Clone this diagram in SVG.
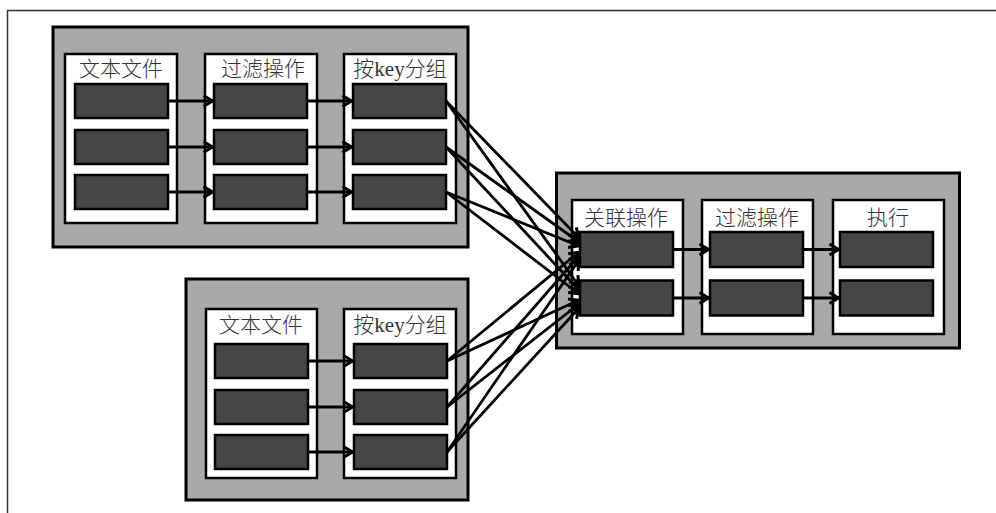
<svg xmlns="http://www.w3.org/2000/svg" width="996" height="513" viewBox="0 0 996 513">
<defs>
<style>
.frame{stroke:#333;stroke-width:1.5;fill:none}
.grp{fill:#a9a9a9;stroke:#000;stroke-width:3}
.col{fill:#fff;stroke:#000;stroke-width:2.5}
.blk{fill:#464646;stroke:#000;stroke-width:2.5}
.lbl{font-family:"Liberation Serif","Noto Sans CJK SC",serif;font-size:21px;font-weight:300;fill:#333;text-anchor:middle}
.ln{stroke:#000;stroke-width:2.8;fill:none;marker-end:url(#ah)}
</style>
<marker id="ah" markerUnits="userSpaceOnUse" markerWidth="14" markerHeight="16" refX="11" refY="7" orient="auto">
<path d="M1.5,1.5 L10.5,7 L1.5,12.5" fill="none" stroke="#000" stroke-width="3"/>
</marker>
</defs>
<rect width="996" height="513" fill="#fff"/>
<path class="frame" d="M7.5,513 L7.5,10.5 L996,10.5"/>

<g id="stage1">
<rect class="grp" x="53" y="27" width="415" height="220"/>
<g id="s1-text">
<rect class="col" x="65" y="54" width="112" height="169"/>
<text class="lbl" x="121" y="76">文本文件</text>
<rect class="blk" x="75" y="84" width="93" height="34"/>
<rect class="blk" x="75" y="130" width="93" height="34"/>
<rect class="blk" x="75" y="175" width="93" height="34"/>
</g>
<g id="s1-filter">
<rect class="col" x="205" y="54" width="112" height="169"/>
<text class="lbl" x="263" y="76">过滤操作</text>
<rect class="blk" x="214" y="84" width="93" height="34"/>
<rect class="blk" x="214" y="130" width="93" height="34"/>
<rect class="blk" x="214" y="175" width="93" height="34"/>
</g>
<g id="s1-group">
<rect class="col" x="344" y="54" width="112" height="169"/>
<text class="lbl" x="400" y="76">按key分组</text>
<rect class="blk" x="353" y="84" width="93" height="34"/>
<rect class="blk" x="353" y="130" width="93" height="34"/>
<rect class="blk" x="353" y="175" width="93" height="34"/>
</g>
</g>

<g id="stage2">
<rect class="grp" x="186" y="279" width="282" height="221"/>
<g id="s2-text">
<rect class="col" x="206" y="309" width="111" height="169"/>
<text class="lbl" x="261" y="332">文本文件</text>
<rect class="blk" x="215" y="344" width="93" height="34"/>
<rect class="blk" x="215" y="390" width="93" height="34"/>
<rect class="blk" x="215" y="435" width="93" height="34"/>
</g>
<g id="s2-group">
<rect class="col" x="344" y="309" width="112" height="169"/>
<text class="lbl" x="400" y="332">按key分组</text>
<rect class="blk" x="354" y="344" width="93" height="34"/>
<rect class="blk" x="354" y="390" width="93" height="34"/>
<rect class="blk" x="354" y="435" width="93" height="34"/>
</g>
</g>

<g id="stage3">
<rect class="grp" x="556.5" y="173" width="403" height="175"/>
<g id="s3-join">
<rect class="col" x="572" y="200" width="111" height="134"/>
<text class="lbl" x="626" y="225">关联操作</text>
<rect class="blk" x="580" y="232" width="93" height="35"/>
<rect class="blk" x="580" y="280.5" width="93" height="35"/>
</g>
<g id="s3-filter">
<rect class="col" x="702" y="200" width="111" height="134"/>
<text class="lbl" x="757" y="225">过滤操作</text>
<rect class="blk" x="710" y="232" width="93" height="35"/>
<rect class="blk" x="710" y="280.5" width="93" height="35"/>
</g>
<g id="s3-exec">
<rect class="col" x="833" y="200" width="111" height="134"/>
<text class="lbl" x="888" y="225">执行</text>
<rect class="blk" x="840" y="232" width="93" height="35"/>
<rect class="blk" x="840" y="280.5" width="93" height="35"/>
</g>
</g>

<g id="connectors">
<line class="ln" x1="168" y1="101" x2="213" y2="101"/>
<line class="ln" x1="168" y1="147" x2="213" y2="147"/>
<line class="ln" x1="168" y1="192" x2="213" y2="192"/>
<line class="ln" x1="307" y1="101" x2="352" y2="101"/>
<line class="ln" x1="307" y1="147" x2="352" y2="147"/>
<line class="ln" x1="307" y1="192" x2="352" y2="192"/>
<line class="ln" x1="308" y1="361" x2="353" y2="361"/>
<line class="ln" x1="308" y1="407" x2="353" y2="407"/>
<line class="ln" x1="308" y1="452" x2="353" y2="452"/>
<line class="ln" x1="673" y1="249.5" x2="709" y2="249.5"/>
<line class="ln" x1="673" y1="298" x2="709" y2="298"/>
<line class="ln" x1="803" y1="249.5" x2="839" y2="249.5"/>
<line class="ln" x1="803" y1="298" x2="839" y2="298"/>

<line class="ln" x1="446" y1="101" x2="579" y2="238"/>
<line class="ln" x1="446" y1="147" x2="579" y2="242"/>
<line class="ln" x1="446" y1="192" x2="579" y2="246"/>
<line class="ln" x1="447" y1="361" x2="579" y2="252"/>
<line class="ln" x1="447" y1="407" x2="579" y2="256"/>
<line class="ln" x1="447" y1="452" x2="579" y2="260"/>
<line class="ln" x1="446" y1="101" x2="579" y2="286"/>
<line class="ln" x1="446" y1="147" x2="579" y2="290"/>
<line class="ln" x1="446" y1="192" x2="579" y2="294"/>
<line class="ln" x1="447" y1="361" x2="579" y2="300"/>
<line class="ln" x1="447" y1="407" x2="579" y2="304"/>
<line class="ln" x1="447" y1="452" x2="579" y2="308"/>
</g>
</svg>
